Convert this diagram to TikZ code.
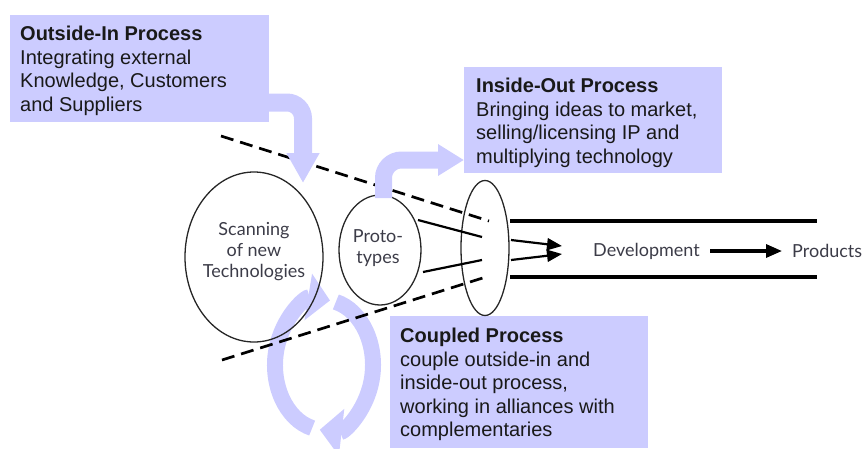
\documentclass[tikz,border=0pt]{standalone}
\usepackage{fontspec}
\setmainfont{Liberation Sans}
\newfontfamily\humanist{Lato}
\usetikzlibrary{shapes.geometric, arrows.meta}

\definecolor{lav}{RGB}{204,204,255}
\definecolor{inkgray}{RGB}{60,60,72}

\begin{document}
\begin{tikzpicture}[x=1pt, y=-1pt,
  procbox/.style={fill=lav, draw=none, inner sep=0pt, anchor=north west},
  proctext/.style={inner sep=0pt, anchor=north west, align=left,
    font=\fontsize{20}{23.5}\selectfont, text=black!90},
  blob/.style={ellipse, draw=black!85, line width=1.3pt, inner sep=0pt},
  gill/.style={inner sep=0pt, align=center, text=inkgray,
    font=\humanist\fontsize{18}{21}\selectfont},
  flow/.style={draw=lav, line cap=butt},
  funnel/.style={draw=black, line width=2.7pt, dash pattern=on 13pt off 7pt},
  feed/.style={draw=black, line width=2.2pt},
  rail/.style={draw=black, line width=4.5pt},
  smallhead/.style={-{Triangle[length=15pt, width=12pt]}},
  cyclehead/.style={-{Triangle[length=22pt, width=46pt]}},
]
\useasboundingbox (0,0) rectangle (863,448);

% process boxes
\node[procbox, minimum width=259pt, minimum height=107pt] (oibox) at (10,15) {};
\node[procbox, minimum width=258pt, minimum height=106pt] (iobox) at (464,67) {};
\node[procbox, minimum width=258pt, minimum height=132pt] (cpbox) at (390,316) {};

% coupled cycle (two arcs around a common centre)
\coordinate (cyc) at (324,365);
\draw[flow, line width=16pt, cyclehead]
  (cyc) ++(104:49 and 65) coordinate (cycA)
  arc[start angle=104, end angle=277, x radius=49, y radius=65];
\draw[flow, line width=16pt, cyclehead]
  (cyc) ++(-76:49 and 65) coordinate (cycB)
  arc[start angle=-76, end angle=95, x radius=49, y radius=65];

% ellipses
\node[blob, minimum width=138pt, minimum height=170pt] (scan) at (254,257) {};
\node[gill] (scantext) at (254,251.5) {Scanning\\of new\\Technologies};
\node[blob, minimum width=82pt, minimum height=110pt] (proto) at (380,250) {};
\node[gill] (prototext) at (378,248.5) {Proto-\\types};
\node[blob, minimum width=48pt, minimum height=135pt] (mouth) at (485,248) {};

% funnel borders
\coordinate (funA) at (221,136);
\coordinate (funB) at (489,221);
\coordinate (funC) at (222,360);
\coordinate (funD) at (489,276);
\draw[funnel] (funA) -- (funB);
\draw[funnel] (funC) -- (funD);

% outside-in flow
\coordinate (oistart) at (262,102.5);
\coordinate (oitip) at (303,183);
\draw[flow, line width=18pt, rounded corners=16pt, -{Triangle[length=30pt, width=31pt]}]
  (oistart) -| (oitip);

% inside-out flow
\coordinate (iostart) at (383.5,198);
\coordinate (iotip) at (464,160);
\draw[flow, line width=17pt, rounded corners=18pt, -{Triangle[length=26pt, width=30pt]}]
  (iostart) |- (iotip);

% prototypes feeding the mouth
\coordinate (pfa) at (418,220);
\coordinate (pfb) at (482,237);
\coordinate (pfc) at (423,272);
\coordinate (pfd) at (482,260);
\draw[feed] (pfa) -- (pfb);
\draw[feed] (pfc) -- (pfd);

% development channel
\coordinate (ra) at (510,221);
\coordinate (rb) at (817,221);
\coordinate (rc) at (510,277);
\coordinate (rd) at (817,277);
\draw[rail] (ra) -- (rb);
\draw[rail] (rc) -- (rd);

\coordinate (da) at (511,240);
\coordinate (db) at (562,246);
\coordinate (dc) at (511,260);
\coordinate (dd) at (562,254);
\draw[feed, smallhead] (da) -- (db);
\draw[feed, smallhead] (dc) -- (dd);

\node[gill, anchor=west] (dev) at (593,251) {Development};
\node[gill, anchor=west] (prod) at (792,251) {Products};
\draw[draw=black, line width=3.2pt, -{Triangle[length=16pt, width=13pt]},
  shorten <=10pt, shorten >=10pt] (dev.east) -- (prod.west);

% box texts
\node[proctext] (oitext) at (20,26)
  {\textbf{Outside-In Process}\\Integrating external\\Knowledge, Customers\\and Suppliers};
\node[proctext] (iotext) at (476,78)
  {\textbf{Inside-Out Process}\\Bringing ideas to market,\\selling/licensing IP and\\multiplying technology};
\node[proctext] (cptext) at (400,328)
  {\textbf{Coupled Process}\\couple outside-in and\\inside-out process,\\working in alliances with\\complementaries};
\end{tikzpicture}
\end{document}
